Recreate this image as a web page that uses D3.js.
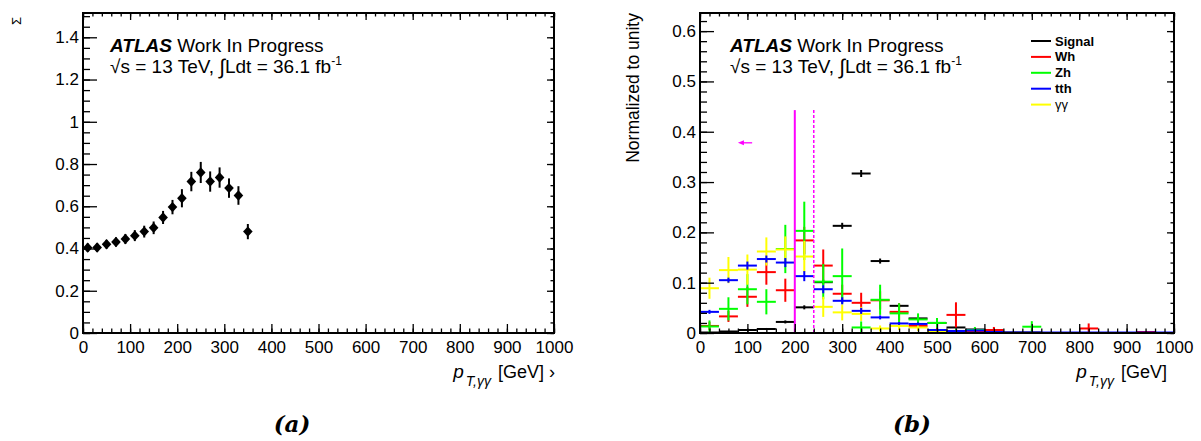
<!DOCTYPE html>
<html>
<head>
<meta charset="utf-8">
<script src="https://cdn.jsdelivr.net/npm/d3@7"></script>
<style>
  body { margin: 0; background: #fff; }
  text { font-family: "Liberation Sans", Arial, Helvetica, sans-serif; fill: #000; }
  .tick line { stroke: #000; stroke-width: 1.3; }
  .tick text { font-size: 17px; }
</style>
</head>
<body>
<div id="graphic"></div>
<script>
// ---- panel (a): profile vs pT
var leftCenters = [10, 30, 50, 70, 90, 110, 130, 150, 170, 190, 210, 230, 250, 270, 290, 310, 330, 350];
var leftValues  = [0.404, 0.405, 0.420, 0.431, 0.445, 0.461, 0.480, 0.498, 0.547, 0.596, 0.638, 0.717, 0.760, 0.717, 0.736, 0.686, 0.651, 0.480];
var leftErrors  = [0.020, 0.020, 0.021, 0.022, 0.024, 0.026, 0.028, 0.030, 0.031, 0.034, 0.043, 0.046, 0.050, 0.048, 0.048, 0.046, 0.044, 0.036];

// ---- panel (b): normalized distributions, 40 GeV bins
var binLow = [0, 40, 80, 120, 160, 200, 240, 280, 320, 360, 400, 440, 480, 520, 560, 600, 640, 680, 720, 760, 800, 840, 880, 920, 960];
var signalVals = [0.001, 0.003, 0.006, 0.008, 0.022, 0.051, 0.101, 0.213, 0.317, 0.143, 0.054, 0.029, 0.020, 0.011, 0.007, 0.003, 0.001, 0.001, 0, 0, 0, 0, 0, 0, 0];
var signalErrs = [0.001, 0.001, 0.002, 0.002, 0.003, 0.004, 0.005, 0.006, 0.007, 0.005, 0.004, 0.003, 0.003, 0.002, 0.002, 0.001, 0.001, 0.001, 0, 0, 0, 0, 0, 0, 0];
var whVals = [0.014, 0.033, 0.072, 0.121, 0.085, 0.184, 0.134, 0.078, 0.060, 0.065, 0.042, 0.014, 0.005, 0.036, 0.004, 0.006, 0, 0, 0, 0, 0.009, 0, 0, 0.002, 0];
var whErrs = [0.008, 0.011, 0.020, 0.025, 0.023, 0.027, 0.032, 0.018, 0.020, 0.018, 0.017, 0.008, 0.005, 0.025, 0.004, 0.006, 0, 0, 0, 0, 0.010, 0, 0, 0.002, 0];
var zhVals = [0.013, 0.048, 0.087, 0.062, 0.167, 0.203, 0.102, 0.113, 0.011, 0.066, 0.039, 0.027, 0.020, 0.004, 0.006, 0, 0, 0.0125, 0, 0, 0, 0, 0, 0, 0];
var zhErrs = [0.012, 0.023, 0.030, 0.025, 0.048, 0.058, 0.035, 0.055, 0.012, 0.030, 0.020, 0.012, 0.010, 0.004, 0.006, 0, 0, 0.011, 0, 0, 0, 0, 0, 0, 0];
var tthVals = [0.042, 0.105, 0.134, 0.147, 0.140, 0.113, 0.087, 0.064, 0.044, 0.031, 0.019, 0.018, 0.006, 0.004, 0.005, 0.002, 0.001, 0.001, 0.001, 0.001, 0.001, 0.001, 0.001, 0.001, 0.001];
var tthErrs = [0.004, 0.005, 0.008, 0.007, 0.009, 0.010, 0.008, 0.007, 0.006, 0.004, 0.003, 0.003, 0.002, 0.002, 0.002, 0.001, 0, 0, 0, 0, 0, 0, 0, 0, 0];
var yyVals = [0.089, 0.125, 0.126, 0.162, 0.166, 0.152, 0.052, 0.041, 0.038, 0.009, 0.014, 0.011, 0.004, 0.003, 0, 0, 0, 0, 0, 0, 0, 0, 0, 0, 0];
var yyErrs = [0.021, 0.026, 0.030, 0.028, 0.026, 0.031, 0.020, 0.016, 0.014, 0.006, 0.008, 0.007, 0.004, 0.003, 0, 0, 0, 0, 0, 0, 0, 0, 0, 0, 0];

var seriesNames  = ["Signal", "Wh", "Zh", "tth", "\u03b3\u03b3"];
var seriesColors = ["#000000", "#ff0000", "#00ff00", "#0000ff", "#ffff00"];
var cutLines = [200, 240];
var cutHeight = 0.443;
var arrowFrom = [110, 0.378], arrowTo = [80, 0.378];

// ---- tick labels
var xTicks = [0, 100, 200, 300, 400, 500, 600, 700, 800, 900, 1000];
var leftYTicks = [0, 0.2, 0.4, 0.6, 0.8, 1, 1.2, 1.4];
var rightYTicks = [0, 0.1, 0.2, 0.3, 0.4, 0.5, 0.6];

var width = 1201, height = 441;
var plotW = 471, plotH = 320;

var svg = d3.select("#graphic")
    .append("svg")
    .attr("width", width)
    .attr("height", height);

svg.append("rect").attr("width", width).attr("height", height).attr("fill", "#fff");

function drawFrame(g, x, y, yTicks, yMinorStep) {
  var w = x.range()[1];
  var xMinor = d3.range(0, 1000.1, 20);
  var yMax = y.domain()[1];
  var yMinor = d3.range(0, yMax, yMinorStep);
  var fmt = d3.format("~g");

  g.append("g").call(d3.axisLeft(y).tickValues(yMinor).tickSize(-7).tickFormat(""));
  g.append("g").call(d3.axisLeft(y).tickValues(yTicks).tickSize(-14).tickPadding(4).tickFormat(fmt));

  g.append("g").attr("transform", "translate(0," + plotH + ")")
      .call(d3.axisBottom(x).tickValues(xMinor).tickSize(-4.5).tickFormat(""));
  g.append("g").attr("transform", "translate(0," + plotH + ")")
      .call(d3.axisBottom(x).tickValues(xTicks).tickSize(-9).tickPadding(8).tickFormat(fmt));

  g.append("g").call(d3.axisTop(x).tickValues(xMinor).tickSize(-3.5).tickFormat(""));
  g.append("g").call(d3.axisTop(x).tickValues(xTicks).tickSize(-7).tickFormat(""));
  g.append("g").attr("transform", "translate(" + w + ",0)")
      .call(d3.axisRight(y).tickValues(yMinor).tickSize(-3.5).tickFormat(""));
  g.append("g").attr("transform", "translate(" + w + ",0)")
      .call(d3.axisRight(y).tickValues(yTicks).tickSize(-7).tickFormat(""));

  g.selectAll(".domain").remove();

  g.append("rect")
      .attr("width", w)
      .attr("height", plotH)
      .attr("fill", "none")
      .attr("stroke", "#000")
      .attr("stroke-width", 2);
}

function atlasLabel(g, x0) {
  var t = g.append("text").attr("x", x0).attr("y", 39).style("font-size", "19px");
  t.append("tspan").style("font-weight", "bold").style("font-style", "italic").text("ATLAS");
  t.append("tspan").text(" Work In Progress");

  var t2 = g.append("text").attr("x", x0).attr("y", 60).style("font-size", "19px");
  t2.append("tspan").text("\u221as = 13 TeV, ");
  t2.append("tspan").style("font-size", "21px").attr("dy", 1).text("\u222b");
  t2.append("tspan").attr("dy", -1).text("Ldt = 36.1 fb");
  t2.append("tspan").style("font-size", "12px").attr("dy", -8).text("-1");
}

function xTitle(g, xEnd, suffix) {
  var t = g.append("text")
      .attr("x", xEnd)
      .attr("y", plotH + 45)
      .attr("text-anchor", "end")
      .style("font-size", "18px");
  t.append("tspan").style("font-style", "italic").style("font-size", "19px").text("p");
  t.append("tspan").style("font-style", "italic").style("font-size", "14px")
      .attr("dx", 2).attr("dy", 8).text("T,\u03b3\u03b3");
  t.append("tspan").attr("dx", 2).attr("dy", -8).text(" [GeV]" + suffix);
}

// ================= panel (a)
var left = svg.append("g").attr("transform", "translate(83,13)");

var xL = d3.scaleLinear().domain([0, 1000]).range([0, plotW]);
var yL = d3.scaleLinear().domain([0, 1.515]).range([plotH, 0]);

drawFrame(left, xL, yL, leftYTicks, 0.05);
atlasLabel(left, 27);
xTitle(left, plotW + 1, " \u203a");

svg.append("text")
    .attr("transform", "translate(21,17) rotate(-90)")
    .attr("text-anchor", "end")
    .style("font-size", "13px")
    .text("\u03a3");

var pts = left.selectAll(".pt")
    .data(leftCenters.map(function(c, i) { return {x: c, v: leftValues[i], e: leftErrors[i]}; }))
    .enter().append("g")
    .attr("class", "pt");

pts.append("line")
    .attr("x1", function(d) { return xL(d.x); })
    .attr("x2", function(d) { return xL(d.x); })
    .attr("y1", function(d) { return yL(d.v - d.e); })
    .attr("y2", function(d) { return yL(d.v + d.e); })
    .attr("stroke", "#000")
    .attr("stroke-width", 2);

pts.append("path")
    .attr("d", "M0,-5.2L4.8,0L0,5.2L-4.8,0Z")
    .attr("transform", function(d) { return "translate(" + xL(d.x) + "," + yL(d.v) + ")"; })
    .attr("fill", "#000");

svg.append("text")
    .attr("x", 292)
    .attr("y", 432)
    .attr("text-anchor", "middle")
    .style("font-family", "'DejaVu Serif', serif")
    .style("font-weight", "bold")
    .style("font-style", "italic")
    .style("font-size", "23px")
    .text("(a)");

// ================= panel (b)
var right = svg.append("g").attr("transform", "translate(700,13)");

var xR = d3.scaleLinear().domain([0, 1000]).range([0, plotW + 3]);
var yR = d3.scaleLinear().domain([0, 0.636]).range([plotH, 0]);

var seriesVals = [signalVals, whVals, zhVals, tthVals, yyVals];
var seriesErrs = [signalErrs, whErrs, zhErrs, tthErrs, yyErrs];

// yellow before blue so the blue zero-bins lie on the axis
var drawOrder = [0, 1, 2, 4, 3];

right.append("clipPath").attr("id", "clipR")
    .append("rect").attr("width", plotW + 3).attr("height", plotH);

var marks = right.append("g").attr("clip-path", "url(#clipR)");

drawOrder.forEach(function(s) {
  var data = binLow.map(function(lo, i) {
    return {lo: lo, hi: lo + 40, v: seriesVals[s][i], e: seriesErrs[s][i]};
  });
  var g = marks.append("g").attr("stroke", seriesColors[s]).attr("stroke-width", 2);
  g.selectAll(".h").data(data).enter().append("line")
      .attr("x1", function(d) { return xR(d.lo); })
      .attr("x2", function(d) { return xR(d.hi); })
      .attr("y1", function(d) { return yR(d.v); })
      .attr("y2", function(d) { return yR(d.v); });
  g.selectAll(".v").data(data.filter(function(d) { return d.e > 0; })).enter().append("line")
      .attr("x1", function(d) { return xR((d.lo + d.hi) / 2); })
      .attr("x2", function(d) { return xR((d.lo + d.hi) / 2); })
      .attr("y1", function(d) { return yR(Math.max(0, d.v - d.e)); })
      .attr("y2", function(d) { return yR(d.v + d.e); });
});

right.selectAll(".cut")
    .data(cutLines)
    .enter().append("line")
    .attr("x1", function(d) { return xR(d); })
    .attr("x2", function(d) { return xR(d); })
    .attr("y1", yR(0))
    .attr("y2", yR(cutHeight))
    .attr("stroke", "#ff00ff")
    .attr("stroke-width", function(d, i) { return i ? 1.5 : 2; })
    .attr("stroke-dasharray", function(d, i) { return i ? "3,2" : null; });

right.append("line")
    .attr("x1", xR(arrowFrom[0]))
    .attr("x2", xR(arrowTo[0]) + 4)
    .attr("y1", yR(arrowFrom[1]))
    .attr("y2", yR(arrowTo[1]))
    .attr("stroke", "#ff00ff")
    .attr("stroke-width", 1.3);

right.append("path")
    .attr("d", "M0,0L6,-2.5L6,2.5Z")
    .attr("transform", "translate(" + xR(arrowTo[0]) + "," + yR(arrowTo[1]) + ")")
    .attr("fill", "#ff00ff");

drawFrame(right, xR, yR, rightYTicks, 0.02);
atlasLabel(right, 30);
xTitle(right, plotW - 4, "");

svg.append("text")
    .attr("transform", "translate(639,13) rotate(-90)")
    .attr("text-anchor", "end")
    .style("font-size", "17.5px")
    .text("Normalized to unity");

// legend
var legend = right.append("g").attr("transform", "translate(331,28)");
var rows = legend.selectAll(".row")
    .data(seriesNames)
    .enter().append("g")
    .attr("transform", function(d, i) { return "translate(0," + (i * 15.9) + ")"; });
rows.append("line")
    .attr("x1", 0).attr("x2", 20)
    .attr("stroke", function(d, i) { return seriesColors[i]; })
    .attr("stroke-width", 2);
rows.append("text")
    .attr("x", 24)
    .attr("dy", "0.35em")
    .style("font-size", "13px")
    .style("font-weight", function(d, i) { return i < 4 ? "bold" : "normal"; })
    .text(function(d) { return d; });

svg.append("text")
    .attr("x", 912)
    .attr("y", 432)
    .attr("text-anchor", "middle")
    .style("font-family", "'DejaVu Serif', serif")
    .style("font-weight", "bold")
    .style("font-style", "italic")
    .style("font-size", "23px")
    .text("(b)");
</script>
</body>
</html>
